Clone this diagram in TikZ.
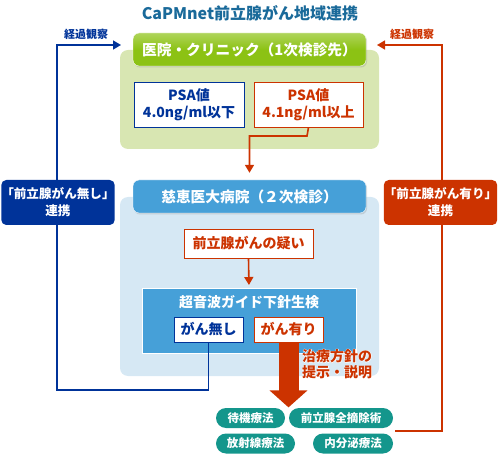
\documentclass[tikz,border=0pt]{standalone}
\usepackage{fontspec}
\setmainfont{Noto Sans CJK JP}
\usetikzlibrary{arrows.meta,shadows}
\definecolor{capblue}{RGB}{0,51,153}
\definecolor{capred}{RGB}{204,51,0}
\definecolor{captitle}{RGB}{26,106,154}
\definecolor{greenbg}{RGB}{216,230,178}
\definecolor{greenhd}{RGB}{140,194,20}
\definecolor{bluebg}{RGB}{214,232,244}
\definecolor{bluehd}{RGB}{70,160,216}
\definecolor{capteal}{RGB}{20,150,140}
\begin{document}
\begin{tikzpicture}[
  x=1pt, y=-1pt,
  font=\bfseries,
  header/.style={rounded corners=6pt, draw=white, thin, text=white, font=\bfseries\fontsize{14.7}{16}\selectfont,
    minimum width=233pt, minimum height=33pt, inner sep=0pt,
    drop shadow={opacity=0.25, shadow xshift=1pt, shadow yshift=-1.5pt}},
  whitebox/.style={fill=white, draw=#1, text=#1, thick, inner sep=0pt, align=center,
    font=\bfseries\fontsize{14}{17}\selectfont},
  linkbox/.style={rounded corners=5pt, fill=#1, text=white, minimum width=112pt, minimum height=45pt,
    inner sep=0pt, align=center, font=\bfseries\fontsize{12.6}{17}\selectfont},
  pill/.style={rounded corners=10pt, fill=capteal, text=white, minimum height=20pt, inner sep=0pt,
    font=\bfseries\fontsize{11.5}{14}\selectfont},
  link/.style={draw=#1, line width=1.6pt},
  tip/.style={-{Triangle[length=8pt,width=9pt]}}
]
  \useasboundingbox (0,0) rectangle (498,454);

  % Title
  \node[text=captitle, font=\bfseries\fontsize{16}{18}\selectfont] (title) at (250,13) {CaPMnet前立腺がん地域連携};

  % Backgrounds
  \fill[greenbg, rounded corners=8pt] (120,50) rectangle (379,149);
  \fill[bluebg, rounded corners=8pt] (120,197) rectangle (379,376);
  \fill[bluehd, draw=white] (142,288) rectangle (356,353);

  % Connectors (behind the boxes)
  \coordinate (lbot) at (57,390);
  \coordinate (ltop) at (57,45);
  \coordinate (lin) at (121,45);
  \coordinate (rend) at (395,431);
  \coordinate (rbot) at (442,431);
  \coordinate (rtop) at (442,45);
  \coordinate (rin) at (377,45);
  \coordinate (bend) at (307,136);

  % Clinic
  \node[header, top color=greenhd!70!white, bottom color=greenhd, middle color=greenhd] (clinic) at (249.5,49.5) {医院・クリニック（1次検診先）};
  \node[whitebox=capblue, minimum width=110pt, minimum height=45pt] (psalow) at (189,104.5) {PSA値\\4.0ng/ml以下};
  \node[whitebox=capred, minimum width=109pt, minimum height=45pt] (psahigh) at (308.5,104.5) {PSA値\\4.1ng/ml以上};

  % Hospital
  \node[header, fill=bluehd] (hosp) at (249.5,196.5) {慈恵医大病院（２次検診）};
  \node[whitebox=capred, minimum width=129pt, minimum height=29pt] (suspect) at (248.5,243.5) {前立腺がんの疑い};
  \node[text=white, font=\bfseries\fontsize{14}{16}\selectfont] (biopsy) at (249,302) {超音波ガイド下針生検};
  \node[whitebox=capblue, minimum width=69pt, minimum height=25pt] (nashi) at (208.5,329.5) {がん無し};
  \node[whitebox=capred, minimum width=69pt, minimum height=25pt] (ari) at (288.5,329.5) {がん有り};

  % Treatments
  \node[pill, minimum width=69pt] (wait) at (250.5,418) {待機療法};
  \node[pill, minimum width=104pt] (surgery) at (341,418) {前立腺全摘除術};
  \node[pill, minimum width=79pt] (radio) at (255.5,443.5) {放射線療法};
  \node[pill, minimum width=80pt] (hormone) at (353,443.5) {内分泌療法};

  % white halo under the explanation text
  \node[anchor=north west, text=white, align=left, inner sep=0pt,
    font=\bfseries\fontsize{14}{16.5}\selectfont\addfontfeature{FakeBold=6}] (planhalo) at (302,349) {治療方針の\\提示・説明};
  \node[anchor=north west, text=capred, align=left, inner sep=0pt,
    font=\bfseries\fontsize{14}{16.5}\selectfont] (plan) at (302,349) {治療方針の\\提示・説明};

  % Lines
  \draw[link=capred, tip, shorten >=7pt] (psahigh.south) -- (bend) -| (hosp.north);
  \draw[link=capred, tip, shorten >=3pt] (suspect.south) -- (biopsy.north |- 288,288);
  \draw[link=capblue, tip] (nashi.south) |- (lbot) -- (ltop) -- (lin);
  \draw[link=capred, tip] (rend) -- (rbot) -- (rtop) -- (rin);
  \draw[capred, line width=20pt, -{Triangle[length=17pt,width=37pt]}] (ari.south) -- ++(0,65);

  % Link boxes
  \node[linkbox=capblue] (nolink) at (58,202.5) {「前立腺がん無し」\\連携};
  \node[linkbox=capred] (yeslink) at (440.5,202.5) {「前立腺がん有り」\\連携};

  \node[text=capblue, font=\bfseries\fontsize{11}{12}\selectfont] (obsl) at (86,34.5) {経過観察};
  \node[text=capred, font=\bfseries\fontsize{11}{12}\selectfont] (obsr) at (412,34.5) {経過観察};
\end{tikzpicture}
\end{document}
